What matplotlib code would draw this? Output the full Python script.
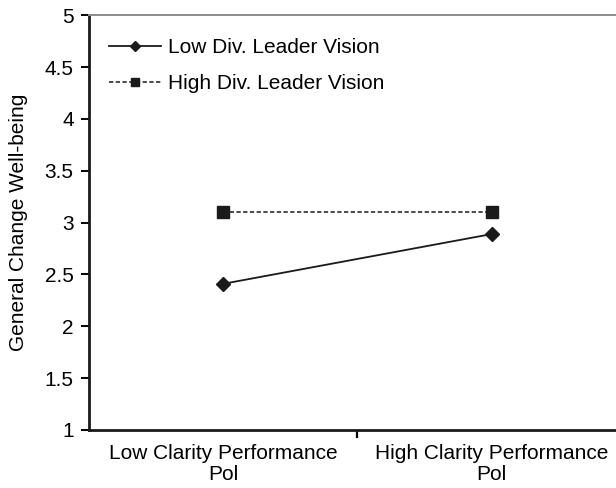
import matplotlib
matplotlib.use("Agg")
import matplotlib.pyplot as plt
from matplotlib.ticker import FixedLocator, NullFormatter

plt.rcParams['font.family'] = ['Liberation Sans', 'DejaVu Sans']

categories = ["Low Clarity Performance\nPol", "High Clarity Performance\nPol"]
low_vision = [2.41, 2.89]
high_vision = [3.10, 3.10]
yticks = [1, 1.5, 2, 2.5, 3, 3.5, 4, 4.5, 5]
ytick_labels = ["1", "1.5", "2", "2.5", "3", "3.5", "4", "4.5", "5"]

FS = 15

fig = plt.figure(figsize=(6.16, 4.88), dpi=100)
ax = fig.add_axes([0.1445, 0.1189, 0.8555, 0.8497])

x = list(range(len(categories)))
ax.plot(x, low_vision, color="#1a1a1a", lw=1.3, marker="D", markersize=7,
        label="Low Div. Leader Vision")
ax.plot(x, high_vision, color="#1a1a1a", lw=1.1, ls=(0, (2.8, 1.6)), marker="s", markersize=8,
        label="High Div. Leader Vision")

ax.set_xlim(-0.5, 1.463)
ax.set_ylim(1, 5)
ax.set_yticks(yticks)
ax.set_yticklabels(ytick_labels, fontsize=FS)
ax.set_xticks(x)
ax.set_xticklabels(categories, fontsize=FS, linespacing=1.15)
ax.tick_params(axis='x', length=0, pad=10)
ax.xaxis.set_minor_locator(FixedLocator([0.5]))
ax.xaxis.set_minor_formatter(NullFormatter())
ax.tick_params(axis='x', which='minor', length=6, width=1.6, direction='out')
ax.tick_params(axis='y', length=6, width=1.4, direction='out', pad=5)

ax.set_ylabel("General Change Well-being", fontsize=FS, labelpad=12)

for s in ['left', 'bottom']:
    ax.spines[s].set_linewidth(2.0)
    ax.spines[s].set_color('#1a1a1a')
ax.spines['top'].set_color('#8c8c8c')
ax.spines['top'].set_linewidth(1.4)
ax.spines['right'].set_visible(False)

leg = ax.legend(loc='upper left', bbox_to_anchor=(20 / 527, 1 - 23 / 414.7), frameon=False,
                fontsize=FS, handlelength=2.5, handletextpad=0.35, labelspacing=0.8,
                borderpad=0, borderaxespad=0, markerscale=0.8)

fig.savefig("out.png", dpi=100)
